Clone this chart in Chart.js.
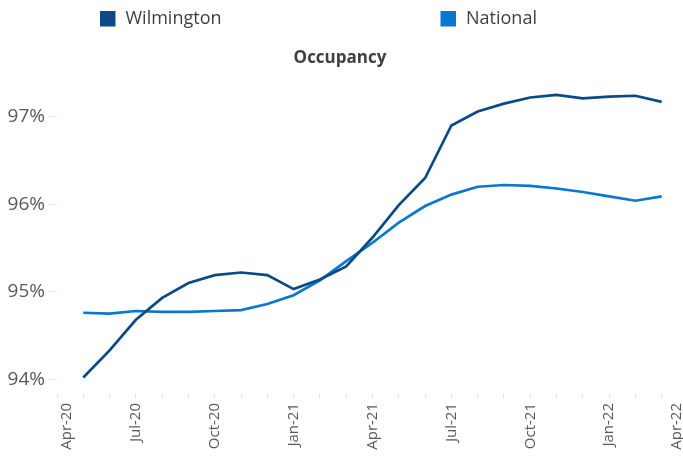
<!DOCTYPE html>
<html>
<head>
<meta charset="utf-8">
<script src="https://cdn.jsdelivr.net/npm/chart.js@4/dist/chart.umd.min.js"></script>
<style>
    html, body { margin: 0; padding: 0; background: #fff; overflow: hidden; }
    #Receptacle { position: relative; width: 700px; height: 465px; }
</style>
</head>
<body>
<div id="Receptacle"><canvas id="graphique"></canvas></div>
<script>
let mois = ['Apr-20', 'May-20', 'Jun-20', 'Jul-20', 'Aug-20', 'Sep-20', 'Oct-20', 'Nov-20', 'Dec-20',
    'Jan-21', 'Feb-21', 'Mar-21', 'Apr-21', 'May-21', 'Jun-21', 'Jul-21', 'Aug-21', 'Sep-21',
    'Oct-21', 'Nov-21', 'Dec-21', 'Jan-22', 'Feb-22', 'Mar-22', 'Apr-22'];

let wilmington = [null, 94.02, 94.33, 94.68, 94.93, 95.10, 95.19, 95.22, 95.19, 95.03, 95.14, 95.29,
    95.62, 95.99, 96.30, 96.90, 97.06, 97.15, 97.22, 97.25, 97.21, 97.23, 97.24, 97.17, null];

let national = [null, 94.76, 94.75, 94.78, 94.77, 94.77, 94.78, 94.79, 94.86, 94.96, 95.13, 95.35,
    95.56, 95.79, 95.98, 96.11, 96.20, 96.22, 96.21, 96.18, 96.14, 96.09, 96.04, 96.09, null];

let graduations = [94, 95, 96, 97];

let couleurWilmington = '#0b4a85';
let couleurNational = '#0a77d1';

// legende dessinee a la main, Excel espace les deux entrees en colonnes
let legendePerso = {
    id: 'legendePerso',
    afterLayout(chart) {
        // le titre est centre sur la page visible, pas sur le canvas
        if (chart.titleBlock)
            chart.titleBlock.left -= 8;
    },
    beforeDraw(chart) {
        // comme Excel, on rentre un peu les etiquettes des deux bouts
        let items = chart.scales.x.getLabelItems(chart.chartArea);
        let visibles = items.filter(it => it.label !== '');
        if (visibles.length > 1) {
            visibles[0].options.translation[0] += 10;
            visibles[visibles.length - 1].options.translation[0] -= 11;
        }
    },
    afterDraw(chart) {
        let ctx = chart.ctx;
        let entrees = [
            {texte: 'Wilmington', couleur: couleurWilmington, x: 100},
            {texte: 'National', couleur: couleurNational, x: 440.5}
        ];
        ctx.save();
        ctx.font = '18px "Open Sans"';
        ctx.textBaseline = 'middle';
        entrees.forEach(e => {
            ctx.fillStyle = e.couleur;
            ctx.fillRect(e.x, 11, 15.5, 15.5);
            ctx.fillStyle = '#404040';
            ctx.fillText(e.texte, e.x + 25.5, 18.5);
        });
        ctx.restore();
    }
};

function AfficherCourbe()
{
    let ctx = document.getElementById('graphique').getContext('2d');

    new Chart(ctx, {
        type: 'line',
        data: {
            labels: mois,
            datasets: [{
                label: 'Wilmington',
                data: wilmington,
                borderColor: couleurWilmington,
                backgroundColor: couleurWilmington,
                borderWidth: 2.7,
                pointRadius: 0,
                tension: 0
            }, {
                label: 'National',
                data: national,
                borderColor: couleurNational,
                backgroundColor: couleurNational,
                borderWidth: 2.7,
                pointRadius: 0,
                tension: 0
            }]
        },
        options: {
            responsive: true,
            maintainAspectRatio: false,
            animation: false,
            layout: {
                padding: {left: 0, right: 12, top: 40, bottom: 0}
            },
            plugins: {
                legend: {display: false},
                tooltip: {enabled: false},
                title: {
                    display: true,
                    text: 'Occupancy',
                    color: '#404040',
                    font: {family: '"Open Sans"', size: 17, weight: 'bold'},
                    padding: {top: 8, bottom: 13}
                }
            },
            scales: {
                x: {
                    offset: false,
                    border: {display: false},
                    grid: {
                        drawOnChartArea: false,
                        drawTicks: true,
                        tickLength: 5,
                        color: '#e6e6e6'
                    },
                    ticks: {
                        autoSkip: false,
                        maxRotation: 90,
                        minRotation: 90,
                        padding: 5,
                        color: '#595959',
                        font: {family: '"Open Sans"', size: 15},
                        callback: function (val, index) {
                            return index % 3 === 0 ? mois[index] : '';
                        }
                    },
                    afterFit: function (scale) {
                        scale.height = 72;
                        scale.paddingRight = 0;
                    }
                },
                y: {
                    min: 93.843,
                    max: 97.404,
                    border: {display: false},
                    grid: {
                        drawOnChartArea: false,
                        drawTicks: true,
                        tickLength: 8,
                        color: '#e6e6e6'
                    },
                    afterBuildTicks: function (scale) {
                        scale.ticks = graduations.map(v => ({value: v}));
                    },
                    ticks: {
                        padding: 4,
                        color: '#595959',
                        font: {family: '"Open Sans"', size: 19},
                        callback: function (val) {
                            return val + '%';
                        }
                    },
                    afterFit: function (scale) {
                        scale.width = 57;
                    }
                }
            }
        },
        plugins: [legendePerso]
    });
}

AfficherCourbe();
</script>
</body>
</html>
